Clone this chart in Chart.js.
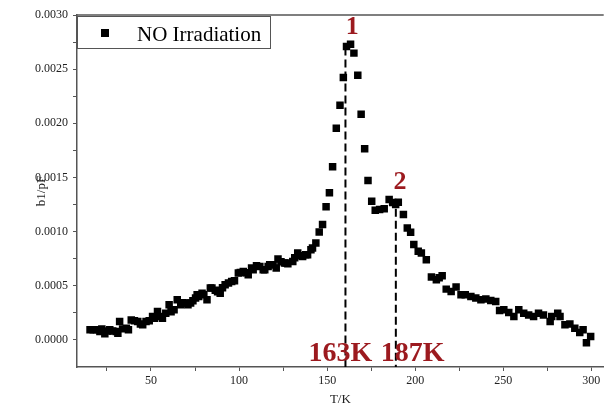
<!DOCTYPE html>
<html>
<head>
<meta charset="utf-8">
<script src="https://cdn.jsdelivr.net/npm/chart.js@4/dist/chart.umd.min.js"></script>
<style>
  html, body { margin: 0; padding: 0; background: #fff; }
  #wrap { width: 609px; height: 407px; }
</style>
</head>
<body>
<div id="wrap"><canvas id="chart" width="609" height="407"></canvas></div>
<script>
// --- DATA ---
const seriesName = 'NO Irradiation';
const temps = [
  15.4, 17.2, 19.1, 21.0, 22.1, 23.8, 25.4, 26.6, 28.3, 30.3, 31.2, 32.2, 33.9, 36.0, 37.2, 38.8,
  40.6, 42.5, 44.0, 45.3, 47.2, 49.0, 50.9, 51.9, 53.7, 55.6, 56.5, 58.4, 60.3, 61.4, 63.1, 64.9,
  66.9, 68.1, 69.7, 71.0, 72.5, 73.8, 75.3, 76.2, 77.1, 79.0, 80.0, 81.8, 83.7, 84.6, 86.5, 87.8,
  89.3, 90.6, 92.1, 94.0, 95.8, 97.4, 99.6, 100.7, 102.4, 104.1, 105.2, 107.1, 108.0, 109.9, 111.8,
  113.7, 114.6, 116.5, 117.4, 119.3, 121.1, 122.1, 123.8, 125.8, 126.7, 127.7, 130.5, 131.6, 133.3,
  135.0, 136.1, 137.8, 138.9, 140.8, 141.7, 143.6, 145.5, 147.4, 149.4, 151.3, 153.1, 155.2, 157.3,
  159.2, 161.0, 163.3, 165.2, 167.4, 169.3, 171.3, 173.2, 175.3, 177.3, 179.8, 182.4, 185.2, 187.2,
  188.9, 190.4, 193.3, 195.5, 197.4, 199.2, 201.7, 203.5, 206.3, 209.2, 212.0, 213.6, 215.3, 217.6,
  220.4, 223.2, 226.0, 228.4, 231.6, 234.4, 237.3, 240.1, 242.9, 245.7, 247.9, 250.3, 253.1, 256.0,
  258.8, 261.6, 264.4, 267.2, 270.0, 272.8, 276.6, 277.5, 280.9, 282.2, 285.0, 287.8, 290.6, 293.4,
  295.3, 297.2, 299.6
];
// b1 in units of 1e-3 pF
const b1 = [
  0.093, 0.093, 0.093, 0.077, 0.102, 0.056, 0.083, 0.093, 0.083, 0.077, 0.062, 0.169, 0.102, 0.108, 0.093, 0.185,
  0.176, 0.169, 0.148, 0.139, 0.169, 0.176, 0.216, 0.201, 0.262, 0.216, 0.201, 0.247, 0.324, 0.259, 0.278, 0.370,
  0.324, 0.343, 0.340, 0.324, 0.340, 0.361, 0.386, 0.417, 0.401, 0.432, 0.417, 0.370, 0.479, 0.479, 0.458, 0.444,
  0.432, 0.481, 0.509, 0.525, 0.540, 0.546, 0.618, 0.623, 0.632, 0.620, 0.602, 0.664, 0.648, 0.685, 0.679,
  0.648, 0.648, 0.679, 0.694, 0.694, 0.664, 0.747, 0.722, 0.710, 0.710, 0.704, 0.725, 0.759, 0.803,
  0.778, 0.771, 0.787, 0.787, 0.833, 0.849, 0.895, 0.997, 1.065, 1.229, 1.358, 1.599, 1.954, 2.167,
  2.423, 2.710, 2.731, 2.648, 2.444, 2.083, 1.766, 1.472, 1.281, 1.197, 1.204, 1.210, 1.296, 1.269,
  1.250, 1.271, 1.157, 1.034, 0.994, 0.880, 0.818, 0.803, 0.741, 0.581, 0.556, 0.574, 0.593, 0.469,
  0.447, 0.488, 0.417, 0.417, 0.401, 0.386, 0.370, 0.377, 0.364, 0.355, 0.271, 0.278, 0.253, 0.216,
  0.278, 0.247, 0.231, 0.216, 0.247, 0.231, 0.169, 0.216, 0.247, 0.216, 0.139, 0.148, 0.108, 0.068,
  0.093, -0.025, 0.031
];
const xTicks = [25, 50, 75, 100, 125, 150, 175, 200, 225, 250, 275, 300];
const xTickLabels = [50, 100, 150, 200, 250, 300];
const yTicks = [0, 0.00025, 0.0005, 0.00075, 0.001, 0.00125, 0.0015, 0.00175, 0.002, 0.00225, 0.0025, 0.00275, 0.003];
const yTickLabels = ['0.0000', '0.0005', '0.0010', '0.0015', '0.0020', '0.0025', '0.0030'];
const peakNames = ['1', '2'];
const peakTemps = [160.4, 189.0];
const peakTops = [0.00270, 0.00121];
const peakTempLabels = ['163K', '187K'];

const DARK_RED = '#9c1a1f';
const SERIF = '"Liberation Serif", "Times New Roman", serif';

const points = temps.map((t, i) => ({ x: t, y: b1[i] / 1000 }));

// dashed markers, peak numbers, temperature labels, top frame and legend
const decorations = {
  id: 'decorations',
  afterDatasetsDraw(chart) {
    const { ctx, chartArea, scales: { x, y } } = chart;
    ctx.save();
    // top frame line
    ctx.strokeStyle = '#555';
    ctx.lineWidth = 1.5;
    ctx.beginPath();
    ctx.moveTo(chartArea.left, chartArea.top);
    ctx.lineTo(chartArea.right, chartArea.top);
    ctx.stroke();

    peakTemps.forEach((t, i) => {
      const px = x.getPixelForValue(t);
      ctx.strokeStyle = '#000';
      ctx.lineWidth = 2;
      ctx.setLineDash([8, 4]);
      ctx.beginPath();
      ctx.moveTo(px, y.getPixelForValue(peakTops[i]));
      ctx.lineTo(px, chartArea.bottom);
      ctx.stroke();
      ctx.setLineDash([]);
    });

    ctx.fillStyle = DARK_RED;
    ctx.textAlign = 'center';
    ctx.textBaseline = 'alphabetic';
    ctx.font = 'bold 26px ' + SERIF;
    ctx.fillText(peakNames[0], x.getPixelForValue(164.3), y.getPixelForValue(0.00282));
    ctx.fillText(peakNames[1], x.getPixelForValue(191.4), y.getPixelForValue(0.00139));
    ctx.font = 'bold 28px ' + SERIF;
    ctx.fillText(peakTempLabels[0], x.getPixelForValue(157.5), y.getPixelForValue(-0.00019));
    ctx.fillText(peakTempLabels[1], x.getPixelForValue(198.5), y.getPixelForValue(-0.00019));

    // legend box
    const lx = chartArea.left, ly = chartArea.top + 1;
    ctx.fillStyle = '#fff';
    ctx.fillRect(lx, ly, 193, 32);
    ctx.strokeStyle = '#555';
    ctx.lineWidth = 1;
    ctx.strokeRect(lx + 0.5, ly + 0.5, 193, 32);
    ctx.fillStyle = '#000';
    ctx.fillRect(lx + 24, ly + 13, 8, 8);
    ctx.font = '21px ' + SERIF;
    ctx.textAlign = 'left';
    ctx.fillText(seriesName, lx + 60, ly + 25);
    ctx.restore();
  }
};

new Chart(document.getElementById('chart'), {
  type: 'scatter',
  data: {
    datasets: [{
      label: seriesName,
      data: points,
      pointStyle: 'rect',
      pointRadius: 5.3,
      pointHoverRadius: 5.3,
      backgroundColor: '#000',
      borderColor: '#000',
      borderWidth: 0
    }]
  },
  options: {
    responsive: false,
    animation: false,
    layout: { padding: { top: 15, right: 0, left: 0, bottom: 0 } },
    plugins: { legend: { display: false }, tooltip: { enabled: false } },
    scales: {
      x: {
        type: 'linear',
        min: 8,
        max: 307,
        afterFit: s => { s.height = 40; },
        afterBuildTicks: s => { s.ticks = xTicks.map(v => ({ value: v })); },
        grid: { drawOnChartArea: false, tickLength: 4, color: '#555', tickWidth: 1 },
        border: { color: '#555', width: 1.5 },
        ticks: {
          padding: 3,
          color: '#222',
          font: { family: SERIF, size: 12 },
          maxRotation: 0,
          autoSkip: false,
          callback: v => xTickLabels.includes(v) ? String(v) : ''
        },
        title: { display: true, text: 'T/K', color: '#222', font: { family: SERIF, size: 13 }, padding: { top: 0, bottom: 0 } }
      },
      y: {
        type: 'linear',
        min: -0.00025,
        max: 0.0030,
        afterFit: s => { s.width = 77; },
        afterBuildTicks: s => { s.ticks = yTicks.map(v => ({ value: v })); },
        grid: { drawOnChartArea: false, tickLength: 4, color: '#555', tickWidth: 1 },
        border: { color: '#555', width: 1.5 },
        ticks: {
          padding: 5,
          color: '#222',
          font: { family: SERIF, size: 12 },
          autoSkip: false,
          callback: v => {
            const k = Math.round(v / 0.00025);
            if (k < 0 || k % 2 !== 0) return '';
            return yTickLabels[k / 2] || '';
          }
        },
        title: { display: true, text: 'b1/pF', color: '#222', font: { family: SERIF, size: 13 }, padding: { top: 34, bottom: 0 } }
      }
    }
  },
  plugins: [decorations]
});
</script>
</body>
</html>
